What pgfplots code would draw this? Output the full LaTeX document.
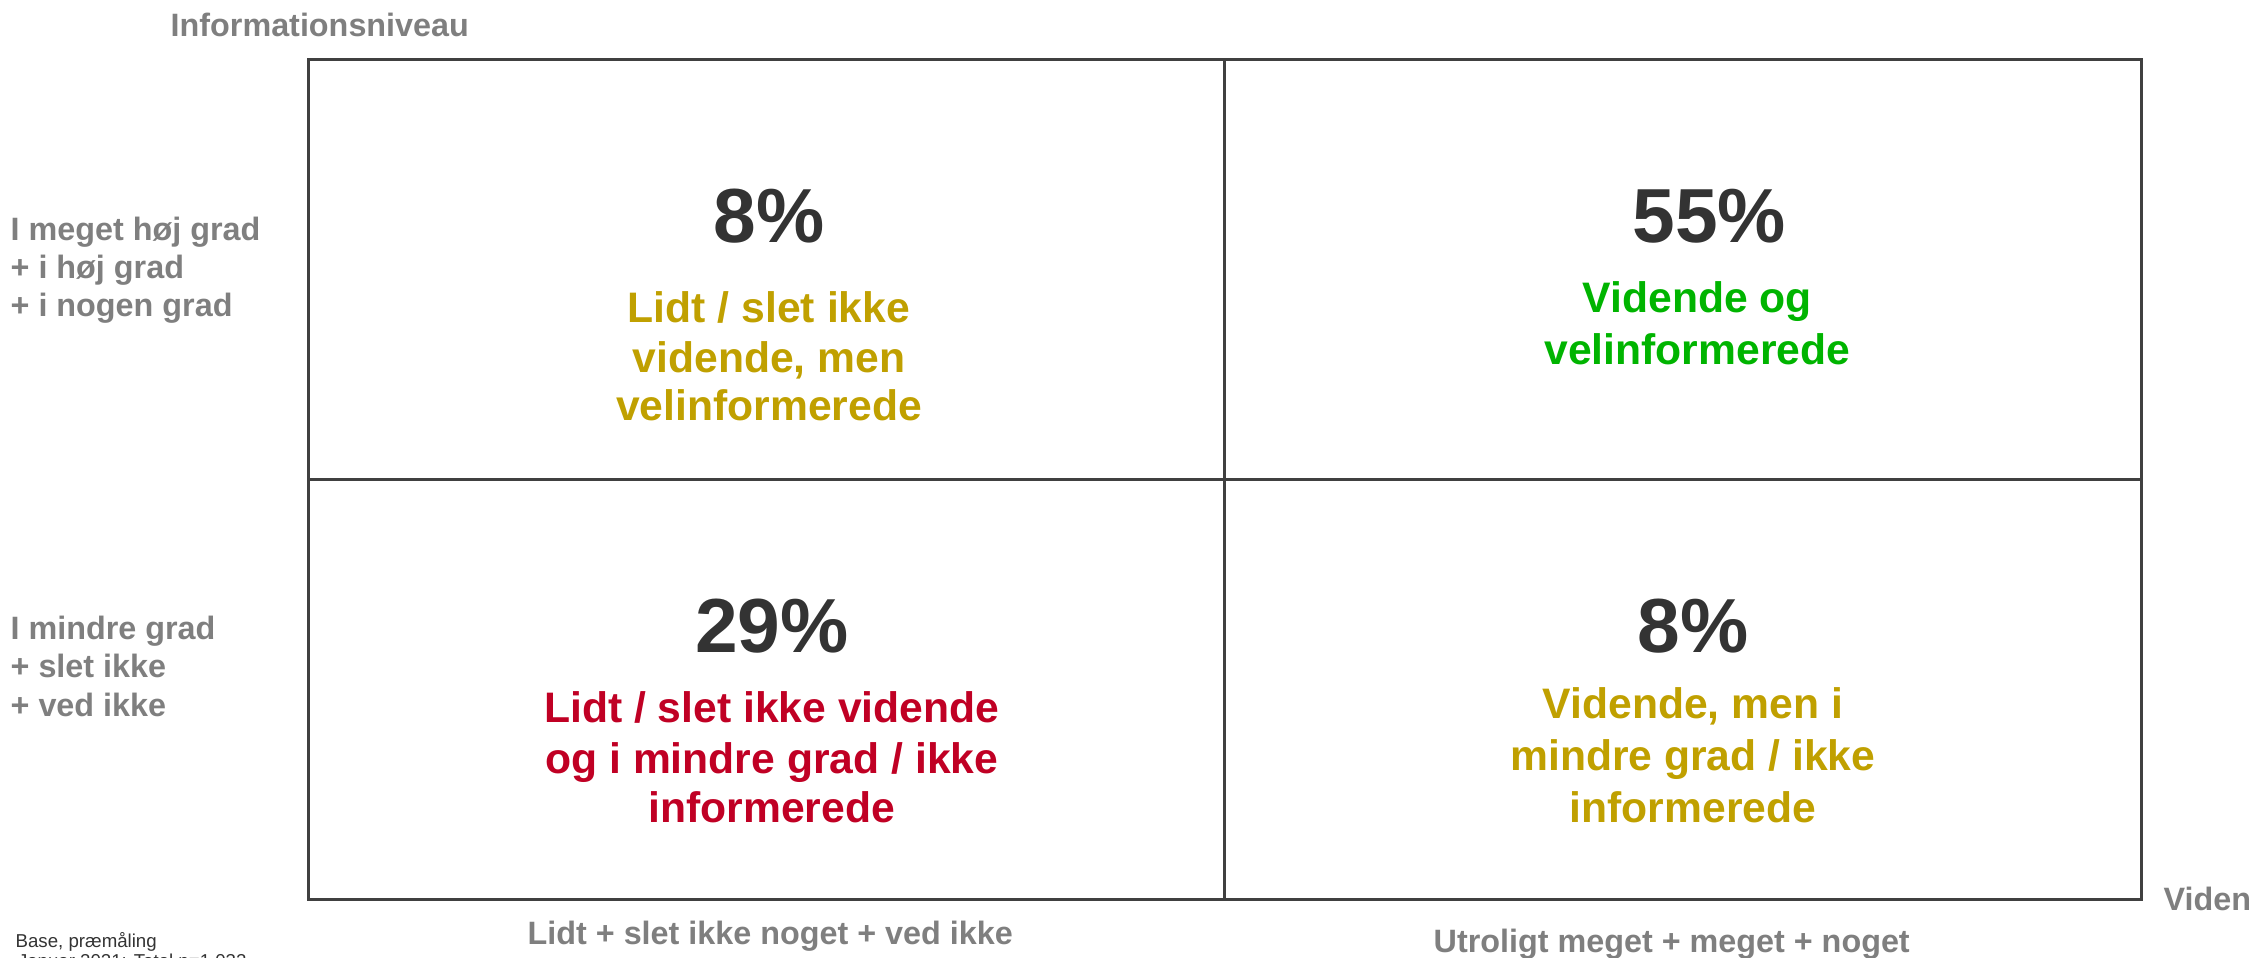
\documentclass[border=0pt]{standalone}
\usepackage{pgfplots}
\pgfplotsset{compat=1.18}
\usepackage{fontspec}
\setmainfont{Liberation Sans}
\definecolor{lbl}{RGB}{127,127,127}
\definecolor{num}{RGB}{51,51,51}
\definecolor{gold}{RGB}{192,160,0}
\definecolor{grn}{RGB}{0,180,0}
\definecolor{redq}{RGB}{192,0,36}
\definecolor{frame}{RGB}{64,64,64}
\newcommand\descfont{\fontsize{12.8}{15}\selectfont\bfseries}
\newcommand\lblfont{\fontsize{9.7}{11}\selectfont\bfseries}
\begin{document}
\begin{tikzpicture}[x=1pt,y=1pt]
\path[use as bounding box] (0,0) rectangle (675.3,287.1);
\begin{axis}[at={(92.4pt,17.4pt)}, anchor=south west,
  width=549.9pt, height=252pt, scale only axis,
  xmin=0, xmax=2, ymin=0, ymax=2,
  xtick={1}, ytick={1}, xticklabels={}, yticklabels={},
  grid=major, major grid style={line width=0.9pt, draw=frame},
  axis line style={line width=0.9pt, draw=frame},
  tick style={draw=none}, major tick length=0pt,
  clip=false, /pgf/number format/assume math mode=true]
\addplot[draw=none, mark=none, point meta=explicit,
  nodes near coords={\pgfmathprintnumber{\pgfplotspointmeta}\%},
  every node near coord/.append style={anchor=base, inner sep=0pt,
    font=\fontsize{23}{27}\selectfont\bfseries, text=num}]
  table[meta=pct] {
x y pct
0.503 1.564 8
1.529 1.564 55
0.506 0.588 29
1.511 0.588 8
};
% quadrant descriptions
\node[anchor=base, inner sep=0pt, text=gold, font=\descfont] at (axis cs:0.503,1.373) {Lidt / slet ikke};
\node[anchor=base, inner sep=0pt, text=gold, font=\descfont] at (axis cs:0.503,1.254) {vidende, men};
\node[anchor=base, inner sep=0pt, text=gold, font=\descfont] at (axis cs:0.503,1.140) {velinformerede};
\node[anchor=base, inner sep=0pt, text=grn, font=\descfont] at (axis cs:1.516,1.397) {Vidende og};
\node[anchor=base, inner sep=0pt, text=grn, font=\descfont] at (axis cs:1.516,1.273) {velinformerede};
\node[anchor=base, inner sep=0pt, text=redq, font=\descfont] at (axis cs:0.506,0.420) {Lidt / slet ikke vidende};
\node[anchor=base, inner sep=0pt, text=redq, font=\descfont] at (axis cs:0.506,0.298) {og i mindre grad / ikke};
\node[anchor=base, inner sep=0pt, text=redq, font=\descfont] at (axis cs:0.506,0.183) {informerede};
\node[anchor=base, inner sep=0pt, text=gold, font=\descfont] at (axis cs:1.511,0.429) {Vidende, men i};
\node[anchor=base, inner sep=0pt, text=gold, font=\descfont] at (axis cs:1.511,0.306) {mindre grad / ikke};
\node[anchor=base, inner sep=0pt, text=gold, font=\descfont] at (axis cs:1.511,0.183) {informerede};
\end{axis}
% outer labels
\begin{scope}[every node/.style={inner sep=0pt, anchor=base west, text=lbl, font=\lblfont}]
\node at (51,276.0) {Informationsniveau};
\node at (3,214.8) {I meget høj grad};
\node at (3,203.4) {+ i høj grad};
\node at (3,192.0) {+ i nogen grad};
\node at (3,95.4) {I mindre grad};
\node at (3,84.0) {+ slet ikke};
\node at (3,72.3) {+ ved ikke};
\node at (158.1,3.9) {Lidt + slet ikke noget + ved ikke};
\node at (429.9,1.5) {Utroligt meget + meget + noget};
\node at (648.9,14.1) {Viden};
\end{scope}
\node[inner sep=0pt, anchor=base west, text=num, font=\fontsize{5.6}{6.5}\selectfont] at (4.5,3.0) {Base, præmåling};
\node[inner sep=0pt, anchor=base west, text=num, font=\fontsize{5.6}{6.5}\selectfont] at (5.2,-3.0) {Januar 2021: Total n=1.032};
\end{tikzpicture}
\end{document}
